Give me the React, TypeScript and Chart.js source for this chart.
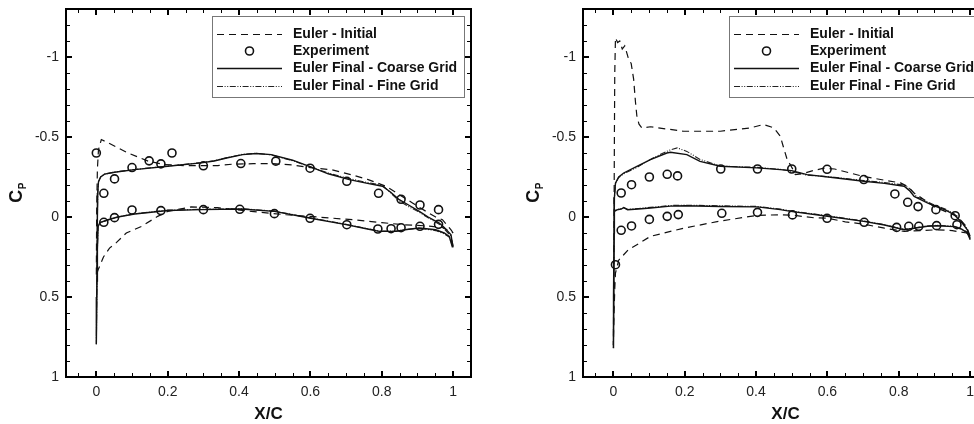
import React, { useEffect, useRef } from 'react';
import { Chart, registerables } from 'chart.js';

Chart.register(...registerables);

const FONT = '"Liberation Sans", Arial, Helvetica, sans-serif';

// ---------- axes / labels ----------
const X_TICKS = [0, 0.2, 0.4, 0.6, 0.8, 1];
const X_TICK_LABELS = ['0', '0.2', '0.4', '0.6', '0.8', '1'];
const Y_TICKS = [-1, -0.5, 0, 0.5, 1];
const Y_TICK_LABELS = ['-1', '-0.5', '0', '0.5', '1'];
const LEGEND_LABELS = ['Euler - Initial', 'Experiment', 'Euler Final - Coarse Grid', 'Euler Final - Fine Grid'];
const X_TITLE = 'X/C';
const Y_TITLE_MAIN = 'C';
const Y_TITLE_SUB = 'P';

// ---------- LEFT PANEL ----------
const L_INIT_X = [1.0, 0.994, 0.97, 0.951, 0.905, 0.886, 0.849, 0.812, 0.76, 0.718, 0.66, 0.606, 0.55, 0.494, 0.44, 0.38, 0.34, 0.30, 0.247, 0.19, 0.145, 0.089, 0.033, 0.014, 0.006, 0.003, 0.001, 0.0, 0.002, 0.005, 0.009, 0.02, 0.037, 0.056, 0.084, 0.126, 0.172, 0.2, 0.266, 0.34, 0.434, 0.532, 0.62, 0.718, 0.8, 0.858, 0.92, 0.97, 1.0];
const L_INIT_Y = [0.10, 0.08, 0.017, 0.0, -0.06, -0.088, -0.14, -0.192, -0.235, -0.262, -0.295, -0.307, -0.325, -0.334, -0.333, -0.33, -0.321, -0.321, -0.321, -0.328, -0.349, -0.40, -0.464, -0.484, -0.42, -0.30, -0.05, 0.37, 0.35, 0.33, 0.309, 0.25, 0.194, 0.16, 0.10, 0.059, -0.004, -0.035, -0.063, -0.058, -0.035, -0.014, 0.0, 0.017, 0.035, 0.048, 0.055, 0.065, 0.10];

const L_COARSE_X = [1.0, 0.998, 0.994, 0.975, 0.961, 0.93, 0.905, 0.875, 0.849, 0.825, 0.802, 0.76, 0.709, 0.65, 0.597, 0.55, 0.49, 0.448, 0.41, 0.368, 0.33, 0.294, 0.2, 0.107, 0.051, 0.023, 0.012, 0.006, 0.004, 0.003, 0.001, 0.0, 0.002, 0.003, 0.005, 0.01, 0.033, 0.06, 0.107, 0.2, 0.294, 0.406, 0.499, 0.597, 0.70, 0.76, 0.793, 0.84, 0.87, 0.905, 0.951, 0.975, 0.989, 0.998];
const L_COARSE_Y = [0.19, 0.17, 0.111, 0.065, 0.038, 0.0, -0.035, -0.075, -0.108, -0.155, -0.192, -0.21, -0.234, -0.27, -0.317, -0.355, -0.39, -0.397, -0.39, -0.37, -0.35, -0.338, -0.317, -0.296, -0.28, -0.268, -0.25, -0.22, -0.15, 0.0, 0.5, 0.795, 0.4, 0.2, 0.059, 0.035, 0.017, 0.0, -0.019, -0.041, -0.046, -0.05, -0.035, 0.006, 0.048, 0.075, 0.09, 0.09, 0.078, 0.069, 0.08, 0.10, 0.121, 0.19];

const L_FINE_X = [1.0, 0.998, 0.994, 0.975, 0.961, 0.93, 0.905, 0.875, 0.849, 0.825, 0.802, 0.76, 0.709, 0.65, 0.597, 0.55, 0.49, 0.448, 0.41, 0.368, 0.33, 0.294, 0.2, 0.107, 0.051, 0.023, 0.012, 0.006, 0.004, 0.003, 0.001, 0.0, 0.002, 0.003, 0.005, 0.01, 0.033, 0.06, 0.107, 0.2, 0.294, 0.406, 0.499, 0.597, 0.70, 0.76, 0.793, 0.84, 0.87, 0.905, 0.951, 0.975, 0.989, 0.998];
const L_FINE_Y = [0.18, 0.16, 0.12, 0.075, 0.045, 0.005, -0.03, -0.065, -0.10, -0.15, -0.198, -0.215, -0.24, -0.275, -0.315, -0.352, -0.388, -0.398, -0.392, -0.372, -0.352, -0.34, -0.318, -0.297, -0.281, -0.268, -0.25, -0.22, -0.15, 0.0, 0.5, 0.795, 0.4, 0.2, 0.06, 0.036, 0.018, 0.0, -0.02, -0.043, -0.048, -0.052, -0.037, 0.004, 0.046, 0.073, 0.088, 0.088, 0.077, 0.07, 0.085, 0.105, 0.125, 0.18];

const L_EXP_X = [0.0, 0.021, 0.051, 0.10, 0.148, 0.181, 0.212, 0.30, 0.405, 0.503, 0.599, 0.702, 0.791, 0.854, 0.907, 0.959, 0.021, 0.051, 0.10, 0.181, 0.30, 0.402, 0.499, 0.599, 0.702, 0.789, 0.826, 0.854, 0.907, 0.959];
const L_EXP_Y = [-0.40, -0.148, -0.238, -0.309, -0.351, -0.332, -0.40, -0.32, -0.334, -0.349, -0.305, -0.223, -0.148, -0.111, -0.075, -0.046, 0.033, 0.004, -0.044, -0.040, -0.046, -0.048, -0.021, 0.008, 0.048, 0.075, 0.073, 0.067, 0.058, 0.046];

// ---------- RIGHT PANEL ----------
const R_INIT_X = [1.0, 0.99, 0.964, 0.93, 0.898, 0.87, 0.843, 0.825, 0.805, 0.76, 0.70, 0.62, 0.59, 0.56, 0.53, 0.51, 0.501, 0.487, 0.475, 0.468, 0.45, 0.421, 0.384, 0.30, 0.197, 0.15, 0.104, 0.08, 0.072, 0.066, 0.062, 0.057, 0.05, 0.043, 0.032, 0.025, 0.018, 0.012, 0.006, 0.004, 0.003, 0.002, 0.001, 0.0, 0.002, 0.004, 0.006, 0.015, 0.029, 0.042, 0.066, 0.104, 0.16, 0.197, 0.30, 0.403, 0.468, 0.50, 0.563, 0.60, 0.65, 0.702, 0.76, 0.815, 0.86, 0.907, 0.95, 0.99, 1.0];
const R_INIT_Y = [0.12, 0.06, -0.004, -0.035, -0.066, -0.11, -0.15, -0.19, -0.213, -0.23, -0.254, -0.30, -0.305, -0.29, -0.27, -0.265, -0.307, -0.36, -0.45, -0.505, -0.557, -0.578, -0.557, -0.536, -0.536, -0.55, -0.564, -0.557, -0.58, -0.63, -0.72, -0.86, -0.96, -0.985, -1.07, -1.05, -1.10, -1.09, -1.12, -0.9, -0.5, 0.0, 0.5, 0.8, 0.6, 0.45, 0.35, 0.27, 0.236, 0.205, 0.173, 0.121, 0.09, 0.07, 0.025, -0.01, -0.014, -0.012, 0.005, 0.008, 0.03, 0.045, 0.07, 0.09, 0.085, 0.08, 0.085, 0.10, 0.12];

const R_COARSE_X = [1.0, 0.992, 0.975, 0.955, 0.93, 0.905, 0.88, 0.86, 0.843, 0.83, 0.815, 0.76, 0.702, 0.62, 0.543, 0.50, 0.468, 0.403, 0.30, 0.243, 0.206, 0.16, 0.15, 0.104, 0.066, 0.029, 0.015, 0.006, 0.003, 0.002, 0.001, 0.0, 0.001, 0.002, 0.003, 0.01, 0.022, 0.029, 0.04, 0.07, 0.104, 0.16, 0.20, 0.30, 0.403, 0.468, 0.497, 0.60, 0.702, 0.76, 0.815, 0.843, 0.88, 0.907, 0.955, 0.975, 0.992, 1.0];
const R_COARSE_Y = [0.142, 0.08, 0.03, -0.014, -0.045, -0.065, -0.088, -0.11, -0.129, -0.165, -0.192, -0.21, -0.223, -0.245, -0.265, -0.29, -0.296, -0.307, -0.317, -0.348, -0.39, -0.405, -0.40, -0.359, -0.317, -0.275, -0.25, -0.212, -0.12, 0.2, 0.6, 0.82, 0.5, 0.1, -0.035, -0.045, -0.05, -0.058, -0.045, -0.05, -0.056, -0.068, -0.07, -0.066, -0.063, -0.046, -0.035, -0.005, 0.027, 0.05, 0.08, 0.07, 0.058, 0.055, 0.06, 0.075, 0.10, 0.14];

const R_FINE_X = [1.0, 0.992, 0.975, 0.955, 0.93, 0.905, 0.88, 0.865, 0.85, 0.835, 0.815, 0.76, 0.702, 0.62, 0.543, 0.50, 0.468, 0.403, 0.30, 0.243, 0.206, 0.179, 0.16, 0.13, 0.104, 0.066, 0.029, 0.015, 0.006, 0.003, 0.002, 0.001, 0.0, 0.001, 0.002, 0.003, 0.01, 0.022, 0.029, 0.04, 0.07, 0.104, 0.16, 0.20, 0.30, 0.403, 0.468, 0.497, 0.60, 0.702, 0.76, 0.815, 0.843, 0.88, 0.907, 0.955, 0.975, 0.992, 1.0];
const R_FINE_Y = [0.13, 0.075, 0.025, -0.02, -0.05, -0.07, -0.095, -0.115, -0.125, -0.17, -0.2, -0.215, -0.228, -0.248, -0.262, -0.285, -0.298, -0.31, -0.318, -0.36, -0.41, -0.432, -0.42, -0.39, -0.36, -0.31, -0.27, -0.247, -0.21, -0.12, 0.2, 0.6, 0.82, 0.5, 0.1, -0.037, -0.047, -0.052, -0.06, -0.048, -0.053, -0.06, -0.072, -0.074, -0.07, -0.066, -0.05, -0.038, -0.008, 0.025, 0.048, 0.078, 0.068, 0.056, 0.052, 0.058, 0.072, 0.095, 0.135];

const R_EXP_X = [0.022, 0.051, 0.101, 0.151, 0.180, 0.301, 0.404, 0.50, 0.599, 0.702, 0.789, 0.825, 0.854, 0.904, 0.958, 0.006, 0.022, 0.051, 0.101, 0.151, 0.182, 0.304, 0.404, 0.502, 0.599, 0.703, 0.794, 0.828, 0.856, 0.906, 0.963];
const R_EXP_Y = [-0.150, -0.202, -0.250, -0.267, -0.257, -0.300, -0.300, -0.300, -0.298, -0.234, -0.144, -0.092, -0.065, -0.046, -0.008, 0.298, 0.083, 0.056, 0.015, -0.004, -0.015, -0.023, -0.029, -0.013, 0.008, 0.033, 0.065, 0.058, 0.058, 0.054, 0.048];

const pts = (xs: number[], ys: number[]) => xs.map((x, i) => ({ x, y: ys[i] }));

const INK = '#111';
const FINE_DASH = [6, 1.6, 1, 1.6, 1, 1.6];
const INIT_DASH = [7, 5];

function makeDatasets(ix: number[], iy: number[], ex: number[], ey: number[], cx: number[], cy: number[], fx: number[], fy: number[]) {
  return [
    { label: LEGEND_LABELS[0], data: pts(ix, iy), showLine: true, borderColor: INK, borderWidth: 1.2, borderDash: INIT_DASH, pointRadius: 0, tension: 0, fill: false },
    { label: LEGEND_LABELS[1], data: pts(ex, ey), showLine: false, borderColor: INK, backgroundColor: 'rgba(0,0,0,0)', pointBorderWidth: 1.6, pointRadius: 4, pointStyle: 'circle' },
    { label: LEGEND_LABELS[2], data: pts(cx, cy), showLine: true, borderColor: INK, borderWidth: 1.4, pointRadius: 0, tension: 0, fill: false },
    { label: LEGEND_LABELS[3], data: pts(fx, fy), showLine: true, borderColor: '#222', borderWidth: 1.1, borderDash: FINE_DASH, pointRadius: 0, tension: 0, fill: false },
  ];
}

const framePlugin = {
  id: 'frame',
  afterDatasetsDraw(chart: any) {
    const { ctx, chartArea: a, scales } = chart;
    const xs = scales.x, ys = scales.y;
    ctx.save();
    ctx.strokeStyle = '#000';
    ctx.setLineDash([]);
    for (let i = -1; i <= 21; i++) {
      const v = i * 0.05;
      if (v < xs.min || v > xs.max) continue;
      const major = i % 4 === 0;
      const len = major ? 6 : 4;
      ctx.lineWidth = major ? 2 : 1;
      const px = Math.round(xs.getPixelForValue(v)) + (major ? 0 : 0.5);
      ctx.beginPath();
      ctx.moveTo(px, a.bottom); ctx.lineTo(px, a.bottom - len);
      ctx.moveTo(px, a.top); ctx.lineTo(px, a.top + len);
      ctx.stroke();
    }
    for (let i = -13; i <= 10; i++) {
      const v = i * 0.1;
      const major = i % 5 === 0;
      const len = major ? 6 : 4;
      ctx.lineWidth = major ? 2 : 1;
      const py = Math.round(ys.getPixelForValue(v)) + (major ? 0 : 0.5);
      ctx.beginPath();
      ctx.moveTo(a.left, py); ctx.lineTo(a.left + len, py);
      ctx.moveTo(a.right, py); ctx.lineTo(a.right - len, py);
      ctx.stroke();
    }
    ctx.lineWidth = 2;
    ctx.strokeRect(a.left, a.top, a.right - a.left, a.bottom - a.top);
    ctx.restore();
  },
  afterDraw(chart: any) {
    const { ctx, chartArea: a } = chart;
    // y title C_P rotated
    ctx.save();
    ctx.fillStyle = INK;
    ctx.translate(a.left - 50, (a.top + a.bottom) / 2);
    ctx.rotate(-Math.PI / 2);
    ctx.font = `bold 18px ${FONT}`;
    const wc = ctx.measureText(Y_TITLE_MAIN).width;
    ctx.font = `bold 10px ${FONT}`;
    const wp = ctx.measureText(Y_TITLE_SUB).width;
    const x0 = -(wc + wp) / 2;
    ctx.textBaseline = 'alphabetic';
    ctx.textAlign = 'left';
    ctx.font = `bold 18px ${FONT}`;
    ctx.fillText(Y_TITLE_MAIN, x0, 6);
    ctx.font = `bold 10px ${FONT}`;
    ctx.fillText(Y_TITLE_SUB, x0 + wc + 0.5, 10);
    ctx.restore();

    // legend
    const bw = 252, bh = 81;
    const bx = a.right - 7 - bw;
    const by = a.top + 7;
    ctx.save();
    ctx.fillStyle = '#fff';
    ctx.fillRect(bx, by, bw, bh);
    ctx.strokeStyle = '#777';
    ctx.lineWidth = 1;
    ctx.strokeRect(bx + 0.5, by + 0.5, bw, bh);
    const rows = [17.7, 35, 52.3, 70];
    chart.data.datasets.forEach((ds: any, i: number) => {
      const cy = by + rows[i];
      ctx.strokeStyle = ds.borderColor;
      if (ds.showLine) {
        ctx.lineWidth = ds.borderWidth;
        ctx.setLineDash(ds.borderDash || []);
        ctx.beginPath();
        ctx.moveTo(bx + 5, Math.round(cy) + 0.5);
        ctx.lineTo(bx + 70, Math.round(cy) + 0.5);
        ctx.stroke();
      } else {
        ctx.setLineDash([]);
        ctx.lineWidth = ds.pointBorderWidth;
        ctx.beginPath();
        ctx.arc(bx + 37.5, cy, ds.pointRadius, 0, Math.PI * 2);
        ctx.stroke();
      }
      ctx.setLineDash([]);
      ctx.fillStyle = INK;
      ctx.font = `bold 14px ${FONT}`;
      ctx.textBaseline = 'middle';
      ctx.textAlign = 'left';
      ctx.fillText(ds.label, bx + 81, cy);
    });
    ctx.restore();
  },
};

function Panel(props: { width: number; yAxisWidth: number; datasets: any[]; left: number }) {
  const ref = useRef<HTMLCanvasElement>(null);
  useEffect(() => {
    if (!ref.current) return;
    const chart = new Chart(ref.current, {
      type: 'scatter',
      data: { datasets: props.datasets },
      options: {
        responsive: false,
        animation: false,
        layout: { padding: { left: 0, top: 9, right: props.width - props.yAxisWidth - 405, bottom: 0 } },
        plugins: { legend: { display: false }, tooltip: { enabled: false } },
        scales: {
          x: {
            type: 'linear',
            min: -0.085,
            max: 1.05,
            grid: { display: false, drawTicks: false },
            border: { display: false },
            afterBuildTicks: (s: any) => { s.ticks = X_TICKS.map((v) => ({ value: v })); },
            afterFit: (s: any) => { s.height = 47; s.paddingLeft = 0; s.paddingRight = 0; },
            ticks: {
              autoSkip: false,
              maxRotation: 0,
              padding: 7,
              color: '#222',
              font: { family: FONT, size: 14 },
              callback: (v: any) => X_TICK_LABELS[X_TICKS.indexOf(Number(v))],
            },
            title: { display: true, text: X_TITLE, color: INK, font: { family: FONT, size: 17, weight: 'bold', lineHeight: 1.0 }, padding: { top: 0, bottom: 1 } },
          },
          y: {
            type: 'linear',
            reverse: true,
            min: -1.3,
            max: 1,
            grid: { display: false, drawTicks: false },
            border: { display: false },
            afterBuildTicks: (s: any) => { s.ticks = Y_TICKS.map((v) => ({ value: v })); },
            afterFit: (s: any) => { s.width = props.yAxisWidth; s.paddingTop = 0; s.paddingBottom = 0; },
            ticks: {
              autoSkip: false,
              padding: 7,
              color: '#222',
              font: { family: FONT, size: 14 },
              callback: (v: any) => Y_TICK_LABELS[Y_TICKS.indexOf(Number(v))],
            },
          },
        },
      } as any,
      plugins: [framePlugin],
    });
    return () => chart.destroy();
  }, []);
  return (
    <canvas
      ref={ref}
      width={props.width}
      height={424}
      style={{ position: 'absolute', left: props.left, top: 0, width: props.width, height: 424, display: 'block' }}
    />
  );
}

export default function App() {
  useEffect(() => {
    document.body.style.margin = '0';
  }, []);
  const leftSets = makeDatasets(L_INIT_X, L_INIT_Y, L_EXP_X, L_EXP_Y, L_COARSE_X, L_COARSE_Y, L_FINE_X, L_FINE_Y);
  const rightSets = makeDatasets(R_INIT_X, R_INIT_Y, R_EXP_X, R_EXP_Y, R_COARSE_X, R_COARSE_Y, R_FINE_X, R_FINE_Y);
  return (
    <div style={{ position: 'relative', width: 974, height: 424, overflow: 'hidden', background: '#fff' }}>
      <Panel width={487} yAxisWidth={66} datasets={leftSets} left={0} />
      <Panel width={517} yAxisWidth={96} datasets={rightSets} left={487} />
    </div>
  );
}
